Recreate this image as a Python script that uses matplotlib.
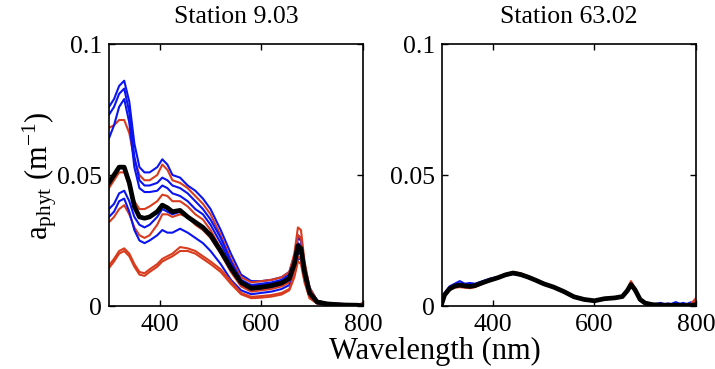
import numpy as np
import matplotlib
matplotlib.use("Agg")
import matplotlib.pyplot as plt

plt.rcParams["font.family"] = ["Liberation Serif", "DejaVu Serif"]
plt.rcParams["mathtext.fontset"] = "custom"
plt.rcParams["mathtext.rm"] = "Liberation Serif"
plt.rcParams["mathtext.it"] = "Liberation Serif:italic"

BLUE = "#0a14f0"
RED = "#d83c1e"

# ── Station 9.03 spectra ───────────────────────────────────────────────────────
wl_a = [300, 310, 320, 330, 340, 350, 360, 370, 380, 395, 405, 415, 425, 440,
        455, 470, 485, 500, 520, 540, 560, 580, 600, 620, 640, 655, 665, 672,
        678, 685, 695, 710, 730, 760, 790, 800]

a_b1 = [0.076, 0.079, 0.084, 0.086, 0.078, 0.062, 0.053, 0.051, 0.051, 0.053,
        0.056, 0.054, 0.050, 0.049, 0.046, 0.044, 0.041, 0.037, 0.029, 0.020,
        0.012, 0.0095, 0.0095, 0.010, 0.011, 0.013, 0.019, 0.027, 0.026, 0.016,
        0.007, 0.002, 0.001, 0.0008, 0.0005, 0.001]
a_r1 = [0.068, 0.069, 0.071, 0.071, 0.066, 0.056, 0.050, 0.048, 0.048, 0.050,
        0.054, 0.052, 0.048, 0.047, 0.045, 0.042, 0.039, 0.035, 0.027, 0.018,
        0.011, 0.009, 0.0095, 0.010, 0.011, 0.013, 0.020, 0.030, 0.029, 0.017,
        0.007, 0.002, 0.001, 0.0008, 0.0005, 0.001]
a_b2 = [0.073, 0.076, 0.081, 0.083, 0.074, 0.057, 0.048, 0.046, 0.046, 0.047,
        0.049, 0.048, 0.046, 0.045, 0.043, 0.040, 0.037, 0.033, 0.026, 0.017,
        0.010, 0.008, 0.0085, 0.009, 0.010, 0.012, 0.018, 0.026, 0.025, 0.015,
        0.006, 0.002, 0.001, 0.0006, 0.0004, 0.0]
a_b3 = [0.064, 0.069, 0.076, 0.079, 0.070, 0.053, 0.045, 0.0435, 0.0435, 0.044,
        0.046, 0.045, 0.043, 0.042, 0.040, 0.037, 0.035, 0.031, 0.024, 0.016,
        0.009, 0.0075, 0.008, 0.0085, 0.0095, 0.011, 0.017, 0.024, 0.023, 0.014,
        0.005, 0.0015, 0.001, 0.0005, 0.0003, 0.0]
a_r2 = [0.045, 0.048, 0.051, 0.051, 0.046, 0.040, 0.037, 0.037, 0.038, 0.040,
        0.0425, 0.042, 0.040, 0.040, 0.038, 0.035, 0.033, 0.029, 0.022, 0.015,
        0.009, 0.007, 0.0075, 0.008, 0.009, 0.011, 0.018, 0.027, 0.026, 0.015,
        0.006, 0.002, 0.001, 0.0005, 0.0004, 0.0]
a_b4 = [0.037, 0.039, 0.043, 0.044, 0.040, 0.034, 0.031, 0.030, 0.031, 0.034,
        0.037, 0.036, 0.035, 0.036, 0.034, 0.032, 0.030, 0.027, 0.021, 0.014,
        0.008, 0.006, 0.0065, 0.007, 0.008, 0.0095, 0.014, 0.020, 0.020, 0.012,
        0.005, 0.0015, 0.0008, 0.0005, 0.0003, 0.0]
a_r3 = [0.032, 0.034, 0.037, 0.0385, 0.035, 0.030, 0.027, 0.026, 0.027, 0.031,
        0.035, 0.035, 0.034, 0.035, 0.034, 0.031, 0.029, 0.026, 0.020, 0.013,
        0.0075, 0.0055, 0.006, 0.0065, 0.0075, 0.009, 0.015, 0.022, 0.021, 0.012,
        0.005, 0.0015, 0.0008, 0.0005, 0.0003, 0.001]
a_b5 = [0.034, 0.036, 0.040, 0.041, 0.036, 0.029, 0.025, 0.024, 0.025, 0.027,
        0.029, 0.028, 0.028, 0.0295, 0.028, 0.026, 0.024, 0.021, 0.016, 0.010,
        0.006, 0.0045, 0.005, 0.0055, 0.0065, 0.008, 0.012, 0.018, 0.018, 0.011,
        0.004, 0.001, 0.0005, 0.0003, 0.0002, 0.0]
a_r4 = [0.0155, 0.018, 0.021, 0.022, 0.020, 0.016, 0.013, 0.0125, 0.014, 0.016,
        0.018, 0.019, 0.020, 0.0225, 0.022, 0.021, 0.019, 0.017, 0.014, 0.0095,
        0.005, 0.0035, 0.0038, 0.0042, 0.005, 0.0065, 0.012, 0.019, 0.018, 0.010,
        0.003, 0.001, 0.0005, 0.0003, 0.0002, 0.001]
a_r5 = [0.0145, 0.017, 0.020, 0.021, 0.019, 0.015, 0.012, 0.0115, 0.013, 0.015,
        0.017, 0.018, 0.019, 0.021, 0.021, 0.020, 0.018, 0.016, 0.013, 0.0085,
        0.0045, 0.003, 0.0032, 0.0036, 0.0044, 0.006, 0.011, 0.017, 0.016, 0.009,
        0.003, 0.001, 0.0005, 0.0003, 0.0002, 0.0]
a_mean = [0.047, 0.050, 0.053, 0.053, 0.047, 0.038, 0.034, 0.0335, 0.034, 0.036,
          0.0385, 0.0375, 0.036, 0.0365, 0.034, 0.032, 0.030, 0.027, 0.021, 0.0145,
          0.009, 0.0068, 0.0072, 0.0078, 0.0088, 0.0105, 0.016, 0.023, 0.022, 0.013,
          0.005, 0.0015, 0.0008, 0.0004, 0.0003, 0.0]

# ── Station 63.02 spectra ──────────────────────────────────────────────────────
wl_b = [300, 305, 315, 325, 335, 345, 355, 365, 380, 395, 410, 425, 440, 455,
        470, 485, 500, 520, 540, 560, 580, 600, 620, 640, 655, 665, 672, 680,
        690, 700, 715, 730, 745, 760, 775, 790, 800]

b_b1 = [0.002, 0.005, 0.0075, 0.0085, 0.0095, 0.0085, 0.0088, 0.0085, 0.0095, 0.0105,
        0.011, 0.012, 0.0125, 0.012, 0.011, 0.0098, 0.0085, 0.0072, 0.0055, 0.0033,
        0.0022, 0.0018, 0.0026, 0.0028, 0.0034, 0.0055, 0.0075, 0.0058, 0.0022, 0.0008,
        0.0004, 0.0012, 0.0002, 0.0015, 0.0003, 0.0014, 0.0]
b_b2 = [0.0015, 0.0045, 0.007, 0.008, 0.0085, 0.0082, 0.008, 0.0082, 0.0092, 0.010,
        0.0108, 0.0118, 0.0124, 0.0118, 0.0108, 0.0096, 0.0083, 0.007, 0.0052, 0.0032,
        0.0024, 0.0019, 0.0027, 0.003, 0.0035, 0.0056, 0.0076, 0.0059, 0.0024, 0.001,
        0.0006, 0.0002, 0.001, 0.0004, 0.0012, 0.0002, 0.0005]
b_b3 = [0.002, 0.0048, 0.0068, 0.0078, 0.0082, 0.0078, 0.0076, 0.008, 0.009, 0.0098,
        0.0106, 0.0116, 0.0122, 0.0117, 0.0107, 0.0095, 0.0082, 0.0069, 0.0053, 0.0034,
        0.0025, 0.002, 0.0028, 0.0031, 0.0036, 0.0057, 0.0077, 0.006, 0.0025, 0.0012,
        0.0005, 0.0009, 0.0003, 0.0011, 0.0004, 0.0009, 0.001]
b_r1 = [0.001, 0.004, 0.006, 0.007, 0.0072, 0.007, 0.0068, 0.0072, 0.0085, 0.0098,
        0.011, 0.0122, 0.013, 0.0125, 0.0113, 0.01, 0.0087, 0.0074, 0.0058, 0.0037,
        0.0027, 0.0022, 0.003, 0.0033, 0.0038, 0.0065, 0.0095, 0.0068, 0.0028, 0.0014,
        0.0008, 0.0004, 0.0006, 0.0003, 0.0005, 0.0008, 0.003]
b_r2 = [0.001, 0.0038, 0.0062, 0.0072, 0.0075, 0.0072, 0.007, 0.0074, 0.0086, 0.0097,
        0.0108, 0.012, 0.0128, 0.0122, 0.0111, 0.0099, 0.0086, 0.0073, 0.0057, 0.0036,
        0.0026, 0.0021, 0.0029, 0.0032, 0.0037, 0.0062, 0.009, 0.0065, 0.0026, 0.0012,
        0.0006, 0.0003, 0.0004, 0.0002, 0.0004, 0.0006, 0.0015]
b_r3 = [0.0012, 0.0042, 0.0065, 0.0074, 0.0078, 0.0075, 0.0072, 0.0076, 0.0088, 0.0099,
        0.0109, 0.0121, 0.0129, 0.0123, 0.0112, 0.0099, 0.0086, 0.0073, 0.0056, 0.0035,
        0.0025, 0.002, 0.0028, 0.0032, 0.0036, 0.006, 0.0087, 0.0064, 0.0025, 0.0011,
        0.0005, 0.0002, 0.0003, 0.0002, 0.0003, 0.0004, 0.002]
b_mean = [0.0012, 0.0042, 0.0066, 0.0076, 0.008, 0.0077, 0.0075, 0.0078, 0.0089, 0.0099,
          0.0108, 0.0119, 0.0126, 0.012, 0.011, 0.0098, 0.0085, 0.0072, 0.0055, 0.0035,
          0.0025, 0.002, 0.0028, 0.0031, 0.0036, 0.0059, 0.0082, 0.0062, 0.0025, 0.0011,
          0.0005, 0.0004, 0.0003, 0.0003, 0.0002, 0.0002, 0.0005]

panels = [
    ("Station 9.03", wl_a,
     [(a_b1, BLUE), (a_r1, RED), (a_b2, BLUE), (a_b3, BLUE), (a_r2, RED),
      (a_b4, BLUE), (a_r3, RED), (a_b5, BLUE), (a_r4, RED), (a_r5, RED)],
     a_mean),
    ("Station 63.02", wl_b,
     [(b_b1, BLUE), (b_b2, BLUE), (b_b3, BLUE), (b_r1, RED), (b_r2, RED), (b_r3, RED)],
     b_mean),
]

# ── Figure ─────────────────────────────────────────────────────────────────────
fig = plt.figure(figsize=(7.15, 3.69), dpi=100)
fs = 18.5
label_fs = 22
positions = [[0.1524, 0.1707, 0.3552, 0.7100], [0.6182, 0.1707, 0.3552, 0.7100]]

for pos, (title, wl, lines, mean) in zip(positions, panels):
    ax = fig.add_axes(pos)
    for vals, col in lines:
        ax.plot(wl, vals, color=col, lw=1.5)
    ax.plot(wl, mean, color="black", lw=3.4)
    ax.set_xlim(300, 800)
    ax.set_ylim(0, 0.1)
    ax.set_xticks([400, 600, 800])
    ax.set_yticks([0, 0.05, 0.1])
    ax.set_yticklabels(["0", "0.05", "0.1"])
    ax.tick_params(direction="in", top=True, right=True, length=4, width=1,
                   labelsize=fs)
    ax.tick_params(axis="x", pad=6)
    ax.tick_params(axis="y", pad=5)
    for sp in ax.spines.values():
        sp.set_linewidth(1.2)
    ax.set_title(title, fontsize=fs, pad=15)

fig.text(0.608, 0.008, "Wavelength (nm)", fontsize=label_fs, ha="center", va="bottom")
fig.text(0.055, 0.525, r"a$_{\mathrm{phyt}}$ (m$^{\mathrm{-1}}$)", fontsize=label_fs,
         rotation=90, ha="center", va="center")

fig.savefig("out.png", dpi=100)
